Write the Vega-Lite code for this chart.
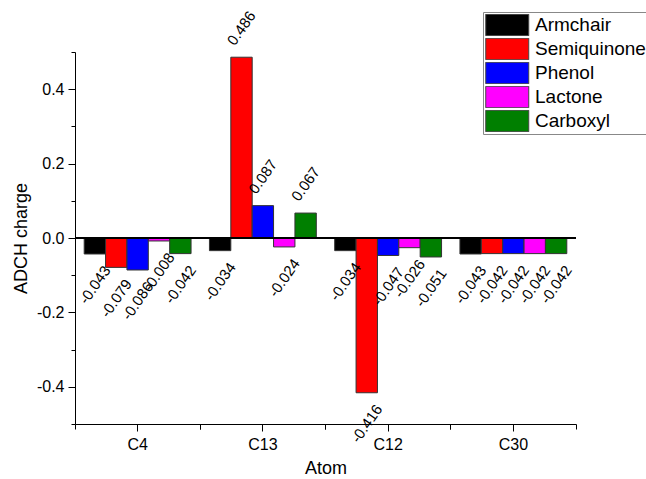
{
  "$schema": "https://vega.github.io/schema/vega-lite/v6.json",
  "width": 501,
  "height": 372,
  "autosize": {"type": "none"},
  "padding": {"left": 75, "top": 52, "right": 70, "bottom": 55},
  "background": "white",
  "config": {
    "locale": {"number": {"decimal": ".", "thousands": ",", "grouping": [3], "currency": ["$", ""], "minus": "-"}},
    "view": {"stroke": null},
    "font": "Liberation Sans",
    "axis": {
      "labelFont": "Liberation Sans",
      "titleFont": "Liberation Sans",
      "labelColor": "black",
      "titleColor": "black",
      "domainColor": "black",
      "tickColor": "black",
      "titleFontWeight": "normal",
      "grid": false
    }
  },
  "data": {
    "values": [
      {"atom": "C4", "group": "Armchair", "value": -0.043},
      {"atom": "C4", "group": "Semiquinone", "value": -0.079},
      {"atom": "C4", "group": "Phenol", "value": -0.086},
      {"atom": "C4", "group": "Lactone", "value": -0.008},
      {"atom": "C4", "group": "Carboxyl", "value": -0.042},
      {"atom": "C13", "group": "Armchair", "value": -0.034},
      {"atom": "C13", "group": "Semiquinone", "value": 0.486},
      {"atom": "C13", "group": "Phenol", "value": 0.087},
      {"atom": "C13", "group": "Lactone", "value": -0.024},
      {"atom": "C13", "group": "Carboxyl", "value": 0.067},
      {"atom": "C12", "group": "Armchair", "value": -0.034},
      {"atom": "C12", "group": "Semiquinone", "value": -0.416},
      {"atom": "C12", "group": "Phenol", "value": -0.047},
      {"atom": "C12", "group": "Lactone", "value": -0.026},
      {"atom": "C12", "group": "Carboxyl", "value": -0.051},
      {"atom": "C30", "group": "Armchair", "value": -0.043},
      {"atom": "C30", "group": "Semiquinone", "value": -0.042},
      {"atom": "C30", "group": "Phenol", "value": -0.042},
      {"atom": "C30", "group": "Lactone", "value": -0.042},
      {"atom": "C30", "group": "Carboxyl", "value": -0.042}
    ]
  },
  "resolve": {"axis": {"x": "independent", "y": "independent"}},
  "layer": [
    {
      "mark": {"type": "bar", "stroke": "#333333", "strokeWidth": 1},
      "encoding": {
        "x": {
          "field": "atom", "type": "nominal", "sort": ["C4", "C13", "C12", "C30"],
          "scale": {"paddingInner": 0, "paddingOuter": 0},
          "axis": {"orient": "bottom", "title": "Atom", "titleFontSize": 18, "titlePadding": 7, "labelFontSize": 16, "labelAngle": 0, "labelPadding": 5, "tickSize": 7}
        },
        "xOffset": {
          "field": "group", "type": "nominal",
          "sort": ["Armchair", "Semiquinone", "Phenol", "Lactone", "Carboxyl"],
          "scale": {"paddingInner": 0, "paddingOuter": 0.43}
        },
        "y": {
          "field": "value", "type": "quantitative",
          "scale": {"domain": [-0.5, 0.5], "nice": false},
          "axis": {
            "orient": "left",
            "title": "ADCH charge", "titleFontSize": 18, "titlePadding": 6,
            "values": [-0.4, -0.2, 0, 0.2, 0.4],
            "format": ".1f",
            "tickSize": 7,
            "labelFontSize": 16, "labelPadding": 4, "labelOverlap": false
          }
        },
        "color": {
          "field": "group", "type": "nominal",
          "sort": ["Armchair", "Semiquinone", "Phenol", "Lactone", "Carboxyl"],
          "scale": {"domain": ["Armchair", "Semiquinone", "Phenol", "Lactone", "Carboxyl"], "range": ["#000000", "#ff0000", "#0000ff", "#ff00ff", "#007f00"]},
          "legend": {
            "title": null, "orient": "none", "legendX": 408, "legendY": -40,
            "symbolType": "M-1,-1H3V1H-1Z", "symbolSize": 462,
            "symbolStrokeColor": "#444444", "symbolStrokeWidth": 1, "symbolOpacity": 1,
            "labelFontSize": 19, "labelFont": "Liberation Sans", "labelColor": "black",
            "labelOffset": 27, "rowPadding": 2, "padding": 2, "clipHeight": 22,
            "strokeColor": "#888888", "fillColor": "white", "labelLimit": 300
          }
        }
      }
    },
    {
      "mark": {"type": "rule", "color": "black", "strokeWidth": 1},
      "encoding": {"y": {"datum": 0, "type": "quantitative",
        "axis": {"orient": "left", "values": [-0.5, -0.3, -0.1, 0.1, 0.3, 0.5], "labels": false, "domain": false, "title": null, "tickSize": 4}}}
    },
    {
      "transform": [{"filter": "datum.value > 0"}],
      "mark": {"type": "text", "angle": -55, "align": "center", "baseline": "middle", "fontSize": 15, "yOffset": -29, "font": "Liberation Sans", "color": "black"},
      "encoding": {
        "x": {"field": "atom", "type": "nominal", "sort": ["C4", "C13", "C12", "C30"],
              "axis": {"orient": "bottom", "bandPosition": 0, "labels": false, "domain": false, "title": null, "tickSize": 5}},
        "xOffset": {"field": "group", "type": "nominal", "sort": ["Armchair", "Semiquinone", "Phenol", "Lactone", "Carboxyl"]},
        "y": {"field": "value", "type": "quantitative", "axis": null},
        "text": {"field": "value", "type": "quantitative", "format": ".3f"}
      }
    },
    {
      "transform": [{"filter": "datum.value < 0"}],
      "mark": {"type": "text", "angle": -55, "align": "center", "baseline": "middle", "fontSize": 15, "yOffset": 31, "font": "Liberation Sans", "color": "black"},
      "encoding": {
        "x": {"field": "atom", "type": "nominal", "sort": ["C4", "C13", "C12", "C30"],
              "axis": {"orient": "bottom", "bandPosition": 1, "labels": false, "domain": false, "title": null, "tickSize": 5}},
        "xOffset": {"field": "group", "type": "nominal", "sort": ["Armchair", "Semiquinone", "Phenol", "Lactone", "Carboxyl"]},
        "y": {"field": "value", "type": "quantitative", "axis": null},
        "text": {"field": "value", "type": "quantitative", "format": ".3f"}
      }
    }
  ]
}
